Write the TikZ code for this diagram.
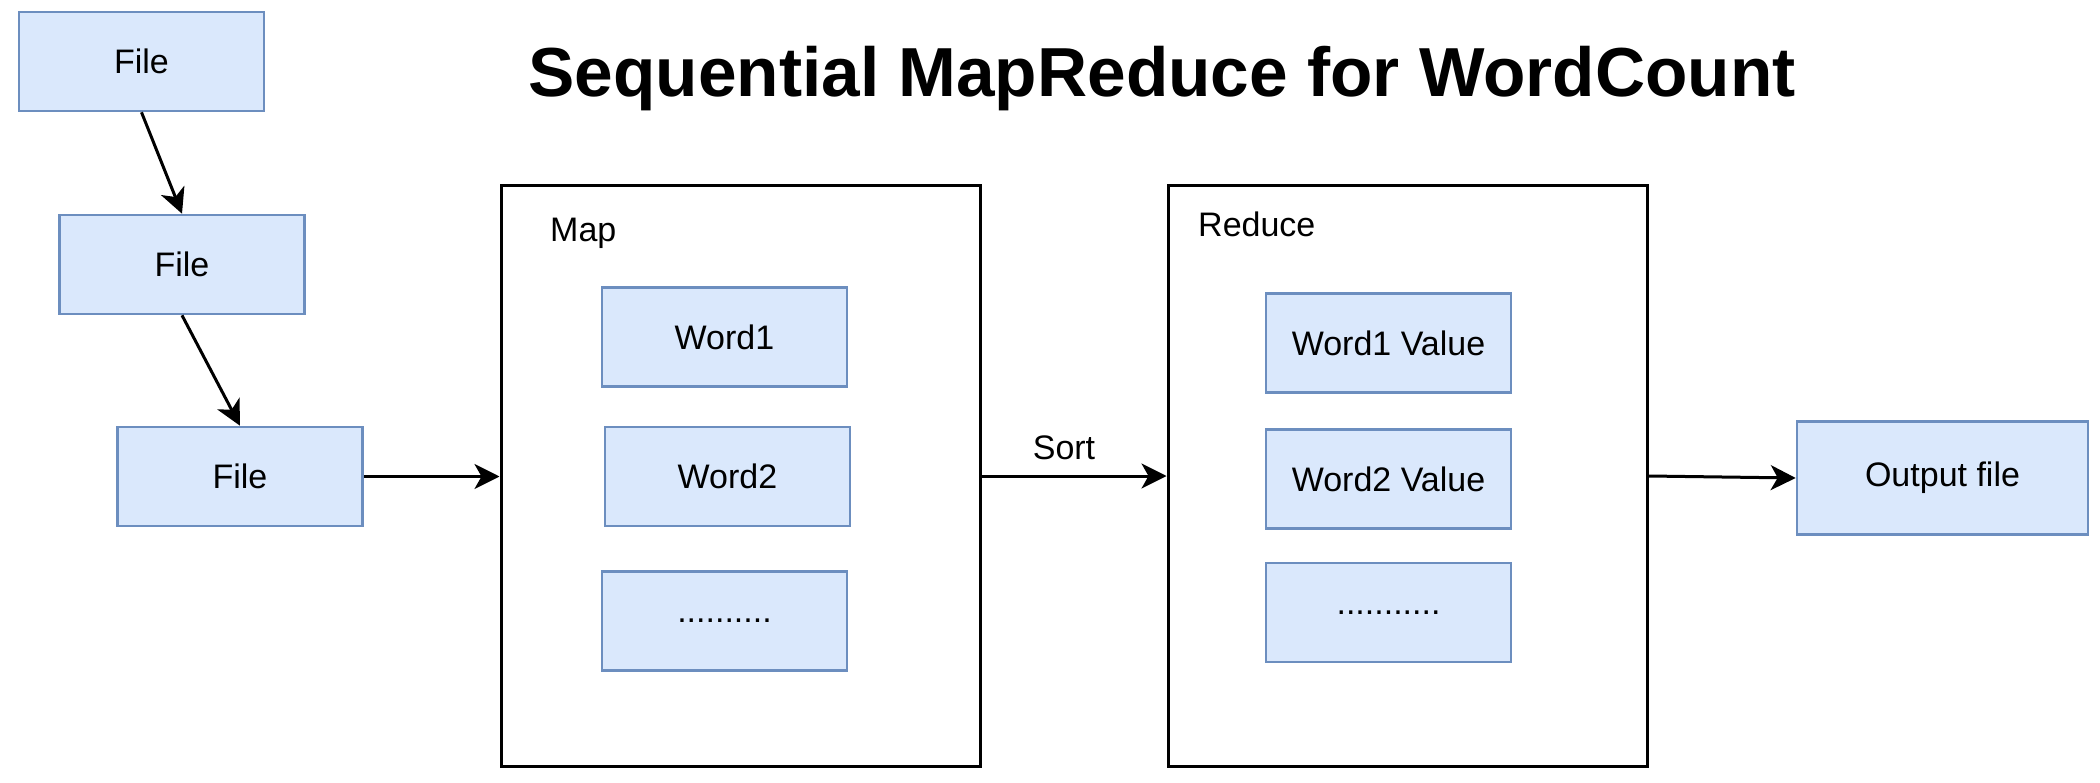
\documentclass[tikz,border=0pt]{standalone}
\usepackage{fontspec}
\setmainfont{Liberation Sans}
\usetikzlibrary{arrows.meta}
\definecolor{boxfill}{HTML}{DAE8FC}
\definecolor{boxline}{HTML}{6C8EBF}
\tikzset{
  bluebox/.style={draw=boxline, fill=boxfill, line width=2.6pt, inner sep=0pt,
    minimum width=245pt, minimum height=99pt, font=\fontsize{34}{40}\selectfont},
  bigbox/.style={draw=black, line width=3pt, inner sep=0pt,
    minimum width=479pt, minimum height=580pt},
  conn/.style={line width=3pt, -{Stealth[length=25pt, width=25pt, inset=7pt]}},
  lbl/.style={inner sep=0pt, font=\fontsize{34}{40}\selectfont}
}
\begin{document}
\begin{tikzpicture}[x=1pt, y=-1pt]
\useasboundingbox[fill=white] (0,0) rectangle (2100,783);
% title
\node[inner sep=0pt, anchor=base, font=\fontsize{69.4}{80}\selectfont\bfseries] (title) at (1162,97) {Sequential MapReduce for WordCount};
% files
\node[bluebox] (f1) at (141.5,61.5) {File};
\node[bluebox] (f2) at (182,264.5) {File};
\node[bluebox] (f3) at (240,476.5) {File};
% map
\node[bigbox] (map) at (740.5,476) {};
\node[lbl, anchor=base west] (maplbl) at (550,241.5) {Map};
\node[bluebox] (w1) at (724.5,337) {Word1};
\node[bluebox] (w2) at (727.5,476.5) {Word2};
\node[bluebox] (w3) at (724.5,621) {..........};
% reduce
\node[bigbox] (red) at (1407.5,476) {};
\node[lbl, anchor=base west] (redlbl) at (1198,236.4) {Reduce};
\node[bluebox] (v1) at (1388.5,343) {Word1 Value};
\node[bluebox] (v2) at (1388.5,479) {Word2 Value};
\node[bluebox] (v3) at (1388.5,612.5) {...........};
% output
\node[bluebox, minimum width=291pt, minimum height=113pt] (out) at (1942.5,478) {Output file};
% connectors
\draw[conn] (f1.south) -- (f2.north);
\draw[conn] (f2.south) -- (f3.north);
\draw[conn] (f3.east) -- (f3.east -| map.west);
\draw[conn] (map.east) -- (red.west);
\node[lbl, anchor=base] (sortlbl) at (1064,459) {Sort};
\draw[conn] (red.east) -- (out.west);
\end{tikzpicture}
\end{document}
